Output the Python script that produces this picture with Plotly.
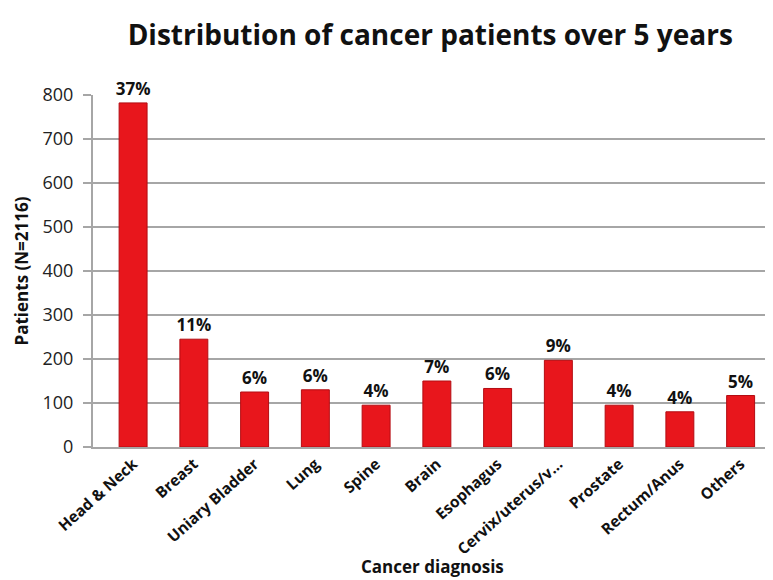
import plotly.graph_objects as go

categories = ["Head & Neck", "Breast", "Uniary Bladder", "Lung", "Spine", "Brain",
              "Esophagus", "Cervix/uterus/v...", "Prostate", "Rectum/Anus", "Others"]
patients = [782, 245, 125, 130, 95, 150, 133, 197, 95, 80, 117]
percent_labels = ["37%", "11%", "6%", "6%", "4%", "7%", "6%", "9%", "4%", "4%", "5%"]
y_ticks = [0, 100, 200, 300, 400, 500, 600, 700, 800]

FONT = "Open Sans"
GRID = "#a6a6a6"

fig = go.Figure()
fig.add_trace(go.Bar(
    x=list(range(len(categories))),
    y=patients,
    text=percent_labels,
    textposition="outside",
    cliponaxis=False,
    constraintext="none",
    textfont=dict(family=FONT, size=17, color="#111111", weight="bold"),
    marker=dict(color="#e8161c", line=dict(color="#b30c12", width=1)),
    width=0.46,
    hoverinfo="x+y",
))

fig.update_layout(
    width=765, height=572,
    margin=dict(l=85, r=2, t=87, b=133),
    paper_bgcolor="white", plot_bgcolor="white",
    showlegend=False,
    title=dict(text="<b>Distribution of cancer patients over 5 years</b>",
               x=0.552, xanchor="center", y=0.953, yanchor="middle",
               font=dict(family=FONT, size=28, color="#111111")),
    xaxis=dict(
        tickmode="array", tickvals=list(range(len(categories))), ticktext=categories,
        range=[-0.66, 10.5], tickangle=-42,
        tickfont=dict(family=FONT, size=15.5, color="#111111", weight="bold"),
        showgrid=False, showline=True, linecolor=GRID, linewidth=2,
        ticks="", zeroline=False,
    ),
    yaxis=dict(
        range=[0, 800], tickvals=y_ticks,
        tickfont=dict(family=FONT, size=18, color="#222222"),
        showgrid=True, gridcolor=GRID, gridwidth=2,
        showline=True, linecolor=GRID, linewidth=2,
        ticks="outside", ticklen=8, tickcolor=GRID, tickwidth=2,
        ticklabelstandoff=6,
        zeroline=False,
        title=dict(text="<b>Patients (N=2116)</b>", standoff=10,
                   font=dict(family=FONT, size=17, color="#111111")),
    ),
    annotations=[dict(
        text="<b>Cancer diagnosis</b>", xref="paper", yref="paper",
        x=0.5, y=0, xanchor="center", yanchor="middle", yshift=-119,
        showarrow=False, font=dict(family=FONT, size=17, color="#111111"),
    )],
)

fig.write_html("out.html")
